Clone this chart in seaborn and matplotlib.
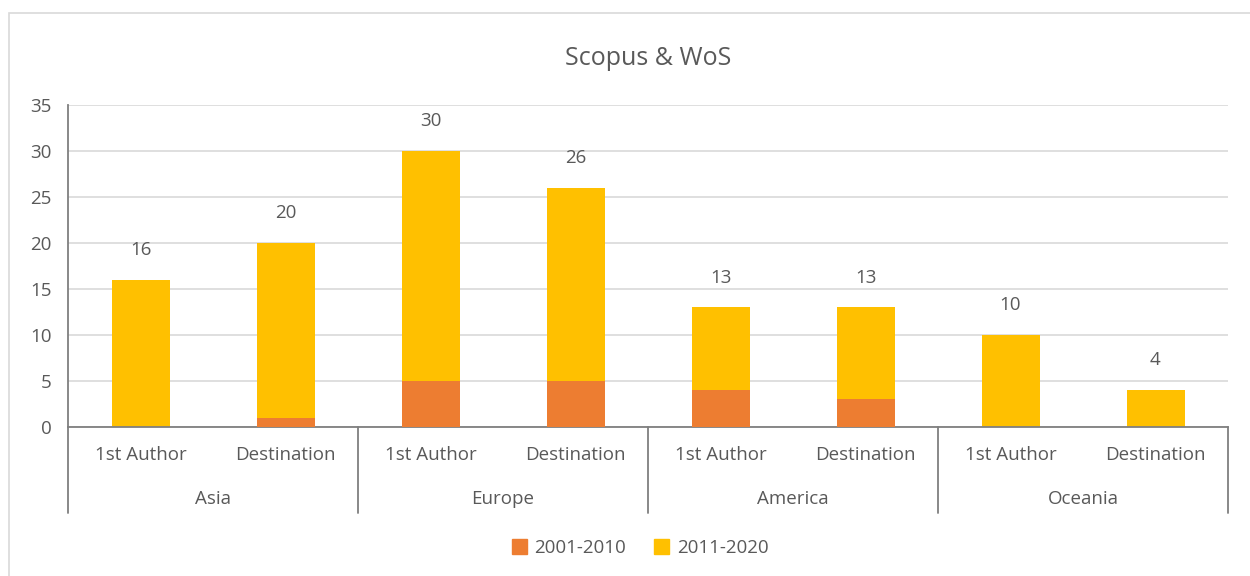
import numpy as np
import pandas as pd
import matplotlib.pyplot as plt
import seaborn as sns
from matplotlib.patches import Rectangle, Patch
from matplotlib.lines import Line2D

# Chart data
regions = ['Asia', 'Europe', 'America', 'Oceania']
roles = ['1st Author', 'Destination']
early = [0, 1, 5, 5, 4, 3, 0, 0]       # 2001-2010
late = [16, 19, 25, 21, 9, 10, 10, 4]   # 2011-2020

slots = [f'{r} {k}' for r in regions for k in roles]
df = pd.DataFrame({'slot': slots, '2001-2010': early, '2011-2020': late})
df['total'] = df['2001-2010'] + df['2011-2020']

orange = '#ED7D31'
yellow = '#FFC000'
grey_txt = '#595959'
fs = 13.5

sns.set_style('white')
plt.rcParams['font.family'] = ['Open Sans', 'DejaVu Sans']

fig = plt.figure(figsize=(12.5, 5.76), dpi=100)
ax = fig.add_axes([68 / 1250, 1 - 427 / 576, 1160 / 1250, 322 / 576])

# outer chart border
fig.patches.append(Rectangle((9 / 1250, -0.01), 1.02, 1 - 13 / 576 + 0.01,
                             transform=fig.transFigure, fill=False,
                             edgecolor='#D9D9D9', linewidth=1.2))

# stacked bars: total in yellow, lower part in orange on top
sns.barplot(data=df, x='slot', y='total', order=slots, color=yellow,
            width=0.4, saturation=1, linewidth=0, ax=ax, zorder=2)
sns.barplot(data=df, x='slot', y='2001-2010', order=slots, color=orange,
            width=0.4, saturation=1, linewidth=0, ax=ax, zorder=3)

for i, t in enumerate(df['total']):
    ax.annotate(str(t), (i, t), xytext=(0, 15), textcoords='offset points',
                ha='center', va='bottom', fontsize=fs, color=grey_txt)

ax.set_xlim(-0.5, len(slots) - 0.5)
ax.set_ylim(0, 35)
ax.set_yticks(range(0, 36, 5))
ax.tick_params(axis='y', labelsize=fs, labelcolor=grey_txt, length=0, pad=12)
ax.set_xticks([])
ax.set_xlabel('')
ax.set_ylabel('')
ax.yaxis.grid(True, color='#D9D9D9', linewidth=1.2, zorder=0)
ax.set_axisbelow(True)
for s in ['top', 'right']:
    ax.spines[s].set_visible(False)
for s in ['left', 'bottom']:
    ax.spines[s].set_color('#7F7F7F')
    ax.spines[s].set_linewidth(1.3)

# two-level category axis
tr = ax.get_xaxis_transform()
for i, s in enumerate(slots):
    ax.text(i, -0.087, s.split(' ', 1)[1], transform=tr, ha='center',
            va='center', fontsize=fs, color=grey_txt)
for g, r in enumerate(regions):
    ax.text(2 * g + 0.5, -0.224, r, transform=tr, ha='center',
            va='center', fontsize=fs, color=grey_txt)
for b in np.arange(-0.5, len(slots), 2):
    ax.add_line(Line2D([b, b], [0, -0.267], transform=tr, color='#7F7F7F',
                       linewidth=1.3, clip_on=False))

ax.set_title('Scopus & WoS', fontsize=18, color=grey_txt, pad=29)

handles = [Patch(color=orange, label='2001-2010'),
           Patch(color=yellow, label='2011-2020')]
fig.legend(handles=handles, loc='center', bbox_to_anchor=(640 / 1250, 1 - 548 / 576),
           ncol=2, frameon=False, fontsize=fs, handlelength=0.8,
           handleheight=0.8, columnspacing=1.5, handletextpad=0.4,
           labelcolor=grey_txt)

fig.savefig('out.png', dpi=100)
